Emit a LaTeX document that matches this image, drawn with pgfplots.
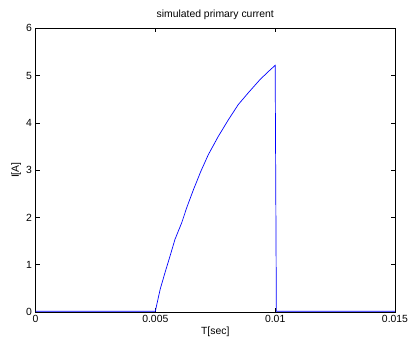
\documentclass[border=0pt]{standalone}
\usepackage{fontspec}
\setmainfont{Liberation Sans}
\usepackage{pgfplots}
\pgfplotsset{compat=1.18}
\begin{document}
\fontsize{10.4bp}{12bp}\selectfont
\begin{tikzpicture}
\useasboundingbox (-35.5bp,-28.3bp) rectangle (372.5bp,312bp);
\begin{axis}[
  scale only axis,
  width=359.5bp, height=283.7bp,
  at={(0,0)}, anchor=south west,
  xmin=0, xmax=0.015, ymin=0, ymax=6,
  xtick={0,0.005,0.01,0.015},
  xticklabels={0,0.005,0.01,0.015},
  ytick={0,1,2,3,4,5,6},
  scaled x ticks=false,
  tick align=inside,
  major tick length=4bp,
  tick style={black, line width=0.5pt},
  axis line style={black, line width=0.8pt},
  /pgf/number format/assume math mode=true,
  ticklabel style={font=\fontsize{10.4bp}{12bp}\selectfont},
  label style={font=\fontsize{10.4bp}{12bp}\selectfont},
  title style={font=\fontsize{10.4bp}{12bp}\selectfont, yshift=-1bp},
  title={simulated primary current},
  xlabel={T[sec]},
  ylabel={I[A]},
  xlabel style={yshift=3bp},
  ylabel style={yshift=-2bp},
  clip=false,
]
\addplot[blue, line width=0.7pt, yshift=0.8bp] coordinates {
  (0,0) (0.005,0) (0.0052,0.46) (0.0054,0.81) (0.00561,1.16)
  (0.00582,1.52) (0.0061,1.87) (0.00631,2.19) (0.00659,2.57)
  (0.00690,2.96) (0.00721,3.31) (0.00763,3.70) (0.00805,4.05)
  (0.00846,4.37) (0.00888,4.62) (0.00937,4.90) (0.00972,5.07)
  (0.0100,5.20) (0.01005,0) (0.015,0)
};
\end{axis}
\end{tikzpicture}
\end{document}
